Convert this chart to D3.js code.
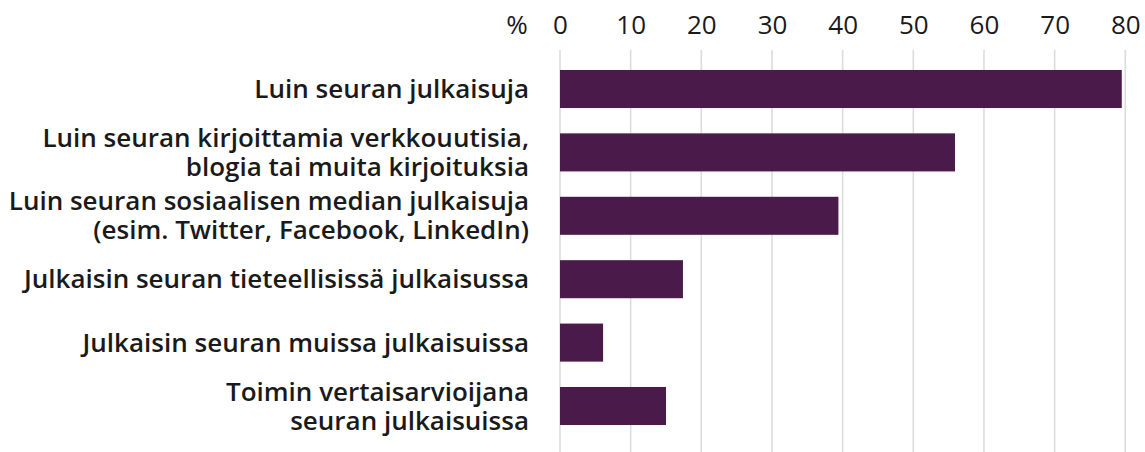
<!DOCTYPE html>
<html>
<head>
<meta charset="utf-8">
<script src="https://cdn.jsdelivr.net/npm/d3@7"></script>
<style>
  body { margin: 0; background: #fff; }
  text { font-family: "Open Sans", sans-serif; fill: #1a1a1a; }
</style>
</head>
<body>
<div id="chart"></div>
<script>
// data
var categories = [
  ["Luin seuran julkaisuja"],
  ["Luin seuran kirjoittamia verkkouutisia,", "blogia tai muita kirjoituksia"],
  ["Luin seuran sosiaalisen median julkaisuja", "(esim. Twitter, Facebook, LinkedIn)"],
  ["Julkaisin seuran tieteellisissä julkaisussa"],
  ["Julkaisin seuran muissa julkaisuissa"],
  ["Toimin vertaisarvioijana", "seuran julkaisuissa"]
];
var values = [79.5, 55.9, 39.4, 17.4, 6.1, 15.0];
var ticks = [0, 10, 20, 30, 40, 50, 60, 70, 80];

var width = 1145, height = 452;
var barColor = "#4a1a4b";

var svg = d3.select("#chart").append("svg")
  .attr("width", width)
  .attr("height", height);

// x scale: 0 at 560, 80 at ~1125
var x = d3.scaleLinear().domain([0, 80]).range([560, 1125.3]);

var y = d3.scaleBand()
  .domain(d3.range(categories.length))
  .range([57.3, 437.7])
  .paddingInner(0.4)
  .paddingOuter(0.2);

// gridlines
svg.append("g").selectAll("line")
  .data(ticks)
  .enter().append("line")
  .attr("x1", d => x(d)).attr("x2", d => x(d))
  .attr("y1", 50).attr("y2", height)
  .attr("stroke", "#dcdcdc")
  .attr("stroke-width", 1.6);

// top axis, labels only
var xAxis = svg.append("g")
  .attr("transform", "translate(0,34)")
  .call(d3.axisTop(x).tickValues(ticks).tickSize(0).tickPadding(0));
xAxis.select(".domain").remove();
xAxis.selectAll("text")
  .style("font-family", "'Open Sans', sans-serif")
  .style("font-size", "26px")
  .attr("fill", "#1a1a1a")
  .attr("dy", 0);

svg.append("text")
  .attr("x", 517).attr("y", 34)
  .attr("text-anchor", "middle")
  .style("font-size", "26px")
  .text("%");

// bars
svg.append("g").selectAll("rect")
  .data(values)
  .enter().append("rect")
  .attr("x", x(0))
  .attr("y", (d, i) => y(i))
  .attr("width", d => x(d) - x(0))
  .attr("height", y.bandwidth())
  .attr("fill", barColor);

// category labels
var lineH = 29;
var labels = svg.append("g").selectAll("text")
  .data(categories)
  .enter().append("text")
  .attr("text-anchor", "end")
  .style("font-size", "26px")
  .style("font-weight", 600)
  .attr("transform", (d, i) => "translate(529," + (y(i) + y.bandwidth() / 2) + ")");

labels.selectAll("tspan")
  .data(d => d.map((t, j) => ({ t: t, j: j, n: d.length })))
  .enter().append("tspan")
  .attr("x", 0)
  .attr("y", d => (d.j - (d.n - 1) / 2) * lineH)
  .attr("dy", "0.35em")
  .text(d => d.t);
</script>
</body>
</html>
